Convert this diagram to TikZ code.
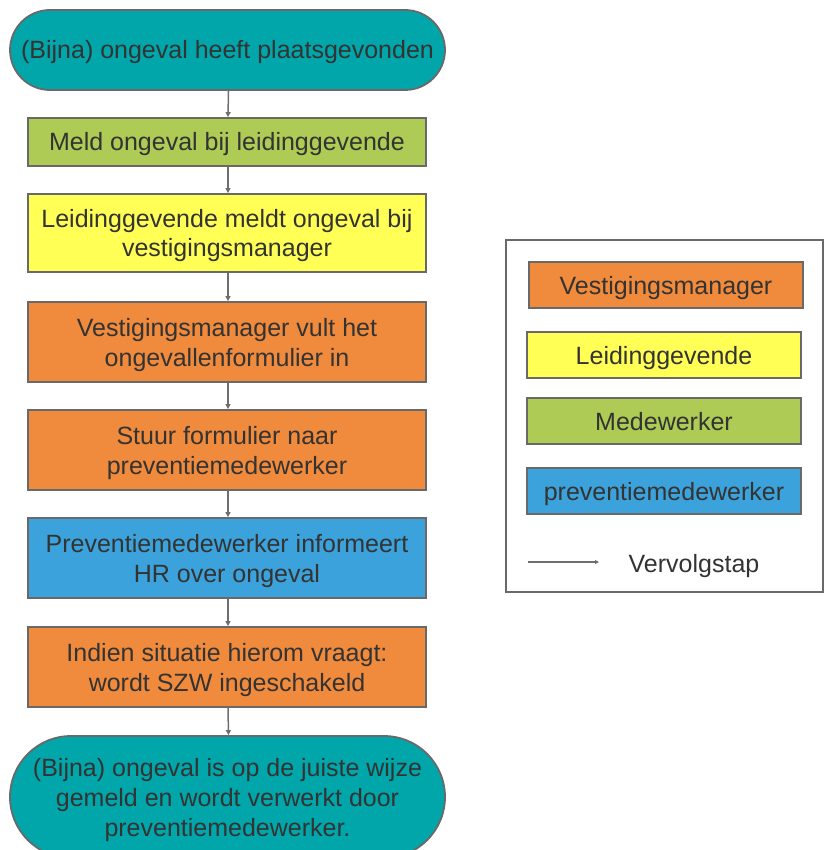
\documentclass[tikz,border=0pt]{standalone}
\usepackage{fontspec}
\setmainfont{Liberation Sans}
\usetikzlibrary{arrows.meta,shapes.misc}
\definecolor{tealc}{RGB}{0,166,170}
\definecolor{greenc}{RGB}{174,203,85}
\definecolor{yellowc}{RGB}{255,255,85}
\definecolor{orangec}{RGB}{240,138,60}
\definecolor{bluec}{RGB}{60,162,219}
\definecolor{edgec}{RGB}{105,105,105}
\definecolor{txtc}{RGB}{51,51,51}
\definecolor{arrc}{RGB}{110,110,110}
\newcommand{\mytxt}[1]{\raisebox{-3pt}[\height][\depth]{\begin{tabular}{@{}c@{}}#1\end{tabular}}}
\tikzset{
  base/.style={draw=edgec, line width=1.8pt, text=txtc, align=center, inner sep=0pt,
    font=\fontsize{25}{30}\selectfont},
  procbox/.style={base, rectangle, minimum width=398pt},
  termbox/.style={base, rounded rectangle, minimum width=435pt, fill=tealc},
  legbox/.style={base, rectangle, minimum width=274pt, minimum height=46pt},
  arr/.style={draw=arrc, line width=1.5pt, -{Triangle[length=5pt,width=5pt]}},
}
\begin{document}
\begin{tikzpicture}[x=1pt,y=-1pt]
\useasboundingbox (0,0) rectangle (830,850);
\begin{scope}
\clip (0,0) rectangle (830,850);
\node[termbox, minimum height=80pt] (t1) at (227.5,50) {\mytxt{(Bijna) ongeval heeft plaatsgevonden}};
\node[procbox, fill=greenc, minimum height=48pt] (b1) at (227,142) {\mytxt{Meld ongeval bij leidinggevende}};
\node[procbox, fill=yellowc, minimum height=78pt] (b2) at (227,233) {\mytxt{Leidinggevende meldt ongeval bij\\vestigingsmanager}};
\node[procbox, fill=orangec, minimum height=80pt] (b3) at (227,342) {\mytxt{Vestigingsmanager vult het\\ongevallenformulier in}};
\node[procbox, fill=orangec, minimum height=80pt] (b4) at (227,450) {\mytxt{Stuur formulier naar\\preventiemedewerker}};
\node[procbox, fill=bluec, minimum height=80pt] (b5) at (227,558) {\mytxt{Preventiemedewerker informeert\\HR over ongeval}};
\node[procbox, fill=orangec, minimum height=80pt] (b6) at (227,667) {\mytxt{Indien situatie hierom vraagt:\\wordt SZW ingeschakeld}};
\node[termbox, minimum height=122pt] (t2) at (227.5,797) {\mytxt{(Bijna) ongeval is op de juiste wijze\\gemeld en wordt verwerkt door\\preventiemedewerker.}};
\end{scope}
\draw[arr] ([xshift=1pt]t1.south) -- ([xshift=1pt]b1.north);
\draw[arr] ([xshift=1pt]b1.south) -- ([xshift=1pt]b2.north);
\draw[arr] ([xshift=1pt]b2.south) -- ([xshift=1pt]b3.north);
\draw[arr] ([xshift=1pt]b3.south) -- ([xshift=1pt]b4.north);
\draw[arr] ([xshift=1pt]b4.south) -- ([xshift=1pt]b5.north);
\draw[arr] ([xshift=1pt]b5.south) -- ([xshift=1pt]b6.north);
\draw[arr] ([xshift=1pt]b6.south) -- ([xshift=1pt]t2.north);
% legend
\node[draw=edgec, line width=1.5pt, minimum width=317pt, minimum height=352pt, inner sep=0pt] (leg) at (664.5,416) {};
\node[legbox, fill=orangec] (l1) at (666,285) {\mytxt{Vestigingsmanager}};
\node[legbox, fill=yellowc] (l2) at (664,355) {\mytxt{Leidinggevende}};
\node[legbox, fill=greenc] (l3) at (664,421) {\mytxt{Medewerker}};
\node[legbox, fill=bluec] (l4) at (664,491) {\mytxt{preventiemedewerker}};
\coordinate (ls) at (528,562);
\coordinate (le) at (599,562);
\draw[arr, line width=1.2pt, -{Triangle[length=4pt,width=4pt]}] (ls) -- (le);
\node[text=txtc, font=\fontsize{25}{30}\selectfont, inner sep=0pt] (lt) at (694,563) {\mytxt{Vervolgstap}};
\end{tikzpicture}
\end{document}
